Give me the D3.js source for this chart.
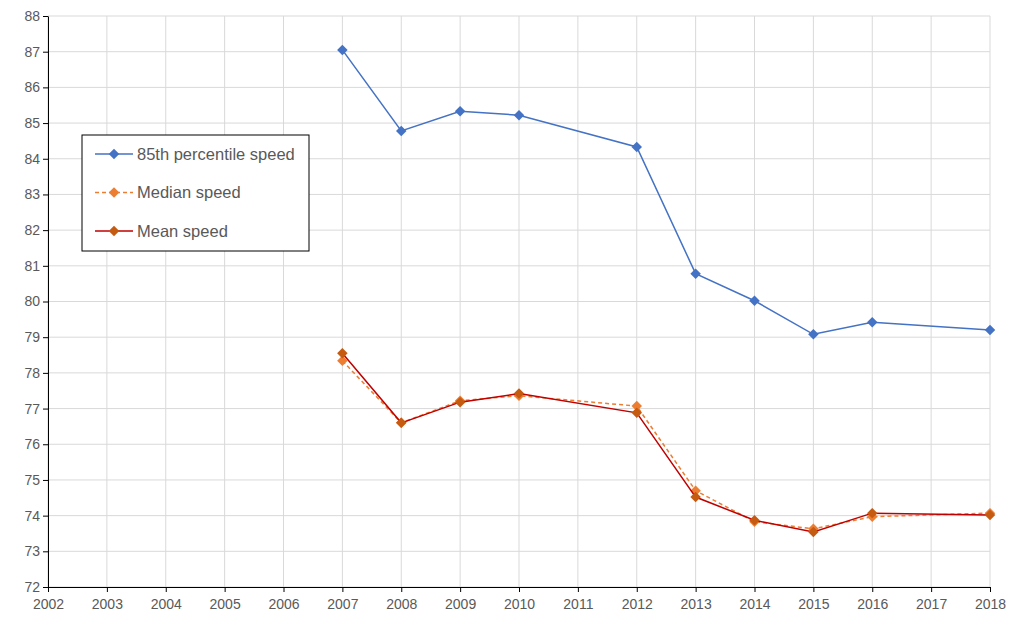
<!DOCTYPE html>
<html><head><meta charset="utf-8">
<script src="https://cdn.jsdelivr.net/npm/d3@7"></script>
<style>body{margin:0;background:#fff;font-family:"Liberation Sans",Arial,sans-serif}</style>
</head><body><div id="chart"></div>
<script>
const years = [2007, 2008, 2009, 2010, 2012, 2013, 2014, 2015, 2016, 2018];
const p85 = [87.05, 84.78, 85.33, 85.22, 84.33, 80.78, 80.02, 79.08, 79.42, 79.2];
const median = [78.34, 76.6, 77.22, 77.36, 77.07, 74.7, 73.83, 73.63, 73.97, 74.07];
const mean = [78.55, 76.6, 77.18, 77.42, 76.88, 74.52, 73.87, 73.54, 74.07, 74.02];
const series = [
  {name: '85th percentile speed', values: p85, color: '#4472C4', marker: '#4472C4', dash: null},
  {name: 'Median speed', values: median, color: '#ED7D31', marker: '#ED7D31', dash: '4,3'},
  {name: 'Mean speed', values: mean, color: '#C00000', marker: '#C55A11', dash: null}
];

const width = 1012, height = 625, margin = {top: 16, right: 22, bottom: 38, left: 48};
const svg = d3.select('#chart').append('svg').attr('width', width).attr('height', height);
const x = d3.scaleLinear().domain([2002, 2018]).range([margin.left, width - margin.right]);
const y = d3.scaleLinear().domain([72, 88]).range([height - margin.bottom, margin.top]);

// gridlines
svg.append('g').selectAll('line').data(d3.range(2002, 2019)).join('line')
  .attr('x1', d => x(d)).attr('x2', d => x(d)).attr('y1', y(72)).attr('y2', y(88))
  .attr('stroke', '#d9d9d9');
svg.append('g').selectAll('line').data(d3.range(72, 89)).join('line')
  .attr('x1', x(2002)).attr('x2', x(2018)).attr('y1', d => y(d)).attr('y2', d => y(d))
  .attr('stroke', '#d9d9d9');

const xAxis = svg.append('g').attr('transform', `translate(0,${y(72)})`)
  .call(d3.axisBottom(x).tickValues(d3.range(2002, 2019)).tickFormat(d3.format('d')).tickSize(5).tickSizeOuter(0));
const yAxis = svg.append('g').attr('transform', `translate(${x(2002)},0)`)
  .call(d3.axisLeft(y).tickValues(d3.range(72, 89)).tickSize(5).tickSizeOuter(0));
[xAxis, yAxis].forEach(a => {
  a.selectAll('path,line').attr('stroke', '#000');
  a.selectAll('text').attr('font-size', 14).attr('fill', '#595959').attr('font-family', '"Liberation Sans",Arial,sans-serif');
});
xAxis.selectAll('text').attr('dy', '1em');

const diamond = d3.symbol().type(d3.symbolDiamond2).size(70);
series.forEach(s => {
  const pts = years.map((yr, i) => [yr, s.values[i]]);
  svg.append('path').datum(pts)
    .attr('d', d3.line().x(d => x(d[0])).y(d => y(d[1])))
    .attr('fill', 'none').attr('stroke', s.color).attr('stroke-width', 1.5)
    .attr('stroke-dasharray', s.dash);
  svg.append('g').selectAll('path').data(pts).join('path')
    .attr('d', diamond).attr('transform', d => `translate(${x(d[0])},${y(d[1])})`)
    .attr('fill', s.marker);
});

// legend
const lg = svg.append('g').attr('transform', 'translate(82,135)');
lg.append('rect').attr('width', 227).attr('height', 116).attr('fill', '#fff').attr('stroke', '#000');
series.forEach((s, i) => {
  const g = lg.append('g').attr('transform', `translate(0,${19 + i * 38.5})`);
  g.append('line').attr('x1', 13).attr('x2', 51).attr('stroke', s.color).attr('stroke-width', 1.5).attr('stroke-dasharray', s.dash);
  g.append('path').attr('d', diamond).attr('transform', 'translate(32,0)').attr('fill', s.marker);
  g.append('text').attr('x', 55).attr('dy', '0.35em').attr('font-size', 16.5).attr('fill', '#595959').text(s.name);
});
</script></body></html>
